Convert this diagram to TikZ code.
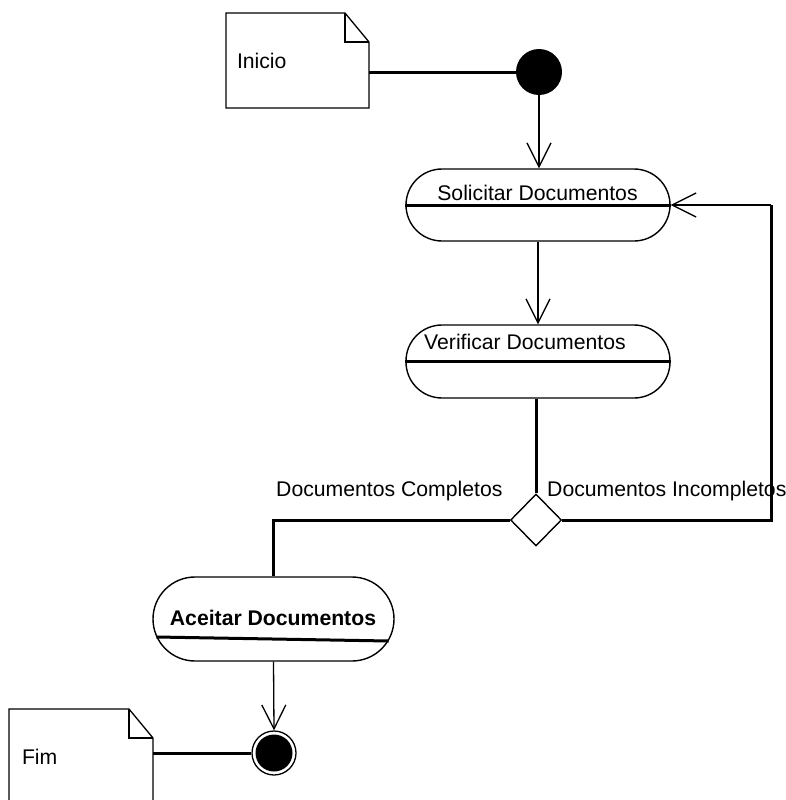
\documentclass[tikz,border=0pt]{standalone}
\usepackage{fontspec}
\setmainfont{Liberation Sans}
\usetikzlibrary{arrows.meta,shapes.geometric}

\begin{document}
\begin{tikzpicture}[x=1pt,y=-1pt,
  txt/.style={font=\fontsize{21.2}{25}\selectfont, inner sep=0pt,
              text height=15.2pt, text depth=0pt},
  thinline/.style={line width=1.3pt},
  thickline/.style={line width=3pt},
  activity/.style={draw, line width=1.4pt, rectangle, inner sep=0pt},
  notebox/.style={txt, align=left, inner ysep=0pt, outer sep=0pt},
  flow/.style={line width=1.3pt,
               -{Straight Barb[length=24pt,width=24pt,line width=1.3pt]}},
]
% canvas
\fill[white] (0,0) rectangle (785,800);
\useasboundingbox (0,0) rectangle (785,800);

% notes
\node[notebox, minimum width=143pt, minimum height=95pt,
      text width=121pt, inner xsep=11pt] (inicio) at (297.5,60.5) {Inicio};
\node[notebox, minimum width=144pt, minimum height=96pt,
      text width=118pt, inner xsep=13pt] (fim) at (81,757) {Fim};

% dog-eared outlines of the notes
\draw[thinline, line join=miter]
  (inicio.south west) -- (inicio.north west) -- ([xshift=-24pt]inicio.north east)
  -- ([yshift=-29pt]inicio.north east) -- (inicio.south east) -- cycle;
\draw[thinline]
  ([xshift=-24pt]inicio.north east) -- ([shift={(-24pt,-29pt)}]inicio.north east)
  -- ([yshift=-29pt]inicio.north east);
\draw[thinline, line join=miter]
  (fim.south west) -- (fim.north west) -- ([xshift=-24pt]fim.north east)
  -- ([yshift=-29pt]fim.north east) -- (fim.south east);
\draw[thinline]
  ([xshift=-24pt]fim.north east) -- ([shift={(-24pt,-29pt)}]fim.north east)
  -- ([yshift=-29pt]fim.north east);

% initial and final states
\node[circle, fill=black, minimum size=46pt, inner sep=0pt] (start) at (539,72) {};
\node[circle, draw, line width=1.3pt, minimum size=44pt, inner sep=0pt] (end) at (274,753) {};
\node[circle, fill=black, minimum size=37pt, inner sep=0pt] (endcore) at (end) {};

% activities
\node[activity, rounded corners=36pt, minimum width=264pt, minimum height=72pt]
  (sol) at (538,205) {};
\node[activity, rounded corners=36pt, minimum width=264pt, minimum height=73pt]
  (ver) at (538,361.5) {};
\node[activity, rounded corners=42pt, minimum width=241pt, minimum height=84pt]
  (acc) at (273.5,619) {};

% decision
\node[diamond, draw, line width=1.4pt, minimum width=51pt, minimum height=52pt,
      inner sep=0pt] (dec) at (536,520) {};

% activity titles and compartments
\node[txt] (solt) at (537.5,193) {Solicitar Documentos};
\node[txt, anchor=west] (vert) at (424,342) {Verificar Documentos};
\node[txt, font=\fontsize{21.2}{25}\selectfont\bfseries] (acct) at (273,617.5) {Aceitar Documentos};
\draw[thickline] (sol.west) -- (sol.east);
\draw[thickline] (ver.west) -- (ver.east);
\draw[thickline] ([shift={(4,18)}]acc.west) -- ([shift={(-6,22)}]acc.east);

% guard labels
\node[txt, anchor=west] (gcomp) at (276,488.4) {Documentos Completos};
\node[txt, anchor=west] (ginc) at (547,488.4) {Documentos Incompletos};

% connectors
\coordinate (ret) at (771,205);
\draw[thickline] (inicio.east |- start.west) -- (start.west);
\draw[flow] (start.south) -- (start.south |- sol.north);
\draw[flow] (sol.south) -- (ver.north);
\draw[thickline] (dec.north |- ver.south) -- (dec.north);
\draw[thickline, line join=miter] (dec.west) -| (acc.north);
\draw[thickline, line join=miter] (dec.east) -| (ret);
\draw[flow] (ret) -- (sol.east);
\draw[flow] (acc.south) -- (end.north);
\draw[thickline] (fim.east |- end.west) -- (end.west);
\end{tikzpicture}
\end{document}
